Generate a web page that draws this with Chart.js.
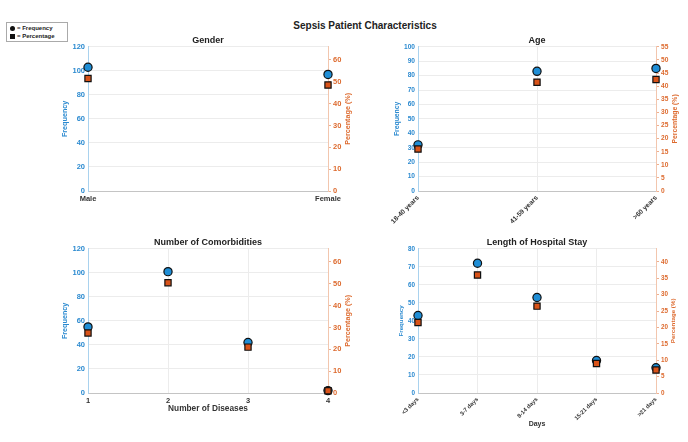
<!DOCTYPE html>
<html>
<head>
<meta charset="utf-8">
<script src="https://cdn.jsdelivr.net/npm/chart.js@4.4.1/dist/chart.umd.min.js"></script>
<style>
  body { margin: 0; background: #fff; width: 688px; height: 442px; position: relative; overflow: hidden;
         font-family: "Liberation Sans", Arial, sans-serif; }
  .panel { position: absolute; }
  #mainTitle { position: absolute; left: 265px; width: 200px; top: 20px; text-align: center;
               font-weight: bold; font-size: 10px; color: #222; white-space: nowrap; }
  #legend { position: absolute; left: 6px; top: 22px; width: 57px; height: 17px; border: 1px solid #aaa;
            font-size: 6px; font-weight: bold; color: #222; padding: 1px 0 0 3px; box-sizing: content-box; }
  #legend div { height: 8px; line-height: 8px; white-space: nowrap; }
  .sym { display: inline-block; width: 5px; height: 5px; background: #111; margin-right: 2px; vertical-align: -0.5px; }
  .circ { border-radius: 50%; }
</style>
</head>
<body>
<div id="mainTitle">Sepsis Patient Characteristics</div>
<div id="legend">
  <div><span class="sym circ"></span>= Frequency</div>
  <div><span class="sym"></span>= Percentage</div>
</div>
<canvas id="gender" class="panel" width="294" height="170" style="left:60px;top:33px"></canvas>
<canvas id="age" class="panel" width="304" height="192" style="left:376px;top:33px"></canvas>
<canvas id="comorb" class="panel" width="294" height="180" style="left:60px;top:235px"></canvas>
<canvas id="stay" class="panel" width="304" height="194" style="left:376px;top:235px"></canvas>
<script>
const FONT = '"Liberation Sans", Arial, sans-serif';
const BLUE = '#2b8ad0';
const ORANGE = '#dd6a2e';

// gender
const genderLabels = ['Male', 'Female'];
const genderFreq = [103, 97];
const genderPct = [51.5, 48.5];

// age
const ageLabels = ['18-40 years', '41-59 years', '>60 years'];
const ageFreq = [32, 83, 85];
const agePct = [16, 41.5, 42.5];

// comorbidities
const comorbLabels = ['1', '2', '3', '4'];
const comorbFreq = [55, 101, 42, 2];
const comorbPct = [27.5, 50.5, 21, 1];

// length of stay
const stayLabels = ['<3 days', '3-7 days', '8-14 days', '15-21 days', '>21 days'];
const stayFreq = [43, 72, 53, 18, 14];
const stayPct = [21.5, 36, 26.5, 9, 7];

function bold(size) {
    return { family: FONT, size, weight: 'bold' };
}

// chart.js turns right-hand titles the other way, so draw this one by hand
const rightTitle = {
    id: 'rightTitle',
    afterDraw(chart, args, opts) {
        const s = chart.scales.y1;
        const c = chart.ctx;
        c.save();
        c.translate(s.right - opts.offset, (s.top + s.bottom) / 2);
        c.rotate(-Math.PI / 2);
        c.font = `bold ${opts.size}px ${FONT}`;
        c.fillStyle = ORANGE;
        c.textAlign = 'center';
        c.textBaseline = 'middle';
        c.fillText('Percentage (%)', 0, 0);
        c.restore();
    }
};

function makePanel(id, labels, freq, pct, cfg) {
    const ctx = document.getElementById(id).getContext('2d');
    return new Chart(ctx, {
        type: 'line',
        data: {
            labels,
            datasets: [{
                label: 'Frequency',
                data: freq,
                yAxisID: 'y',
                showLine: false,
                clip: false,
                pointStyle: 'circle',
                pointRadius: 4.1,
                pointBackgroundColor: '#1f8ed6',
                pointBorderColor: '#111',
                pointBorderWidth: 1.2,
                order: 2,
            }, {
                label: 'Percentage',
                data: pct,
                yAxisID: 'y1',
                showLine: false,
                clip: false,
                pointStyle: 'rect',
                pointRadius: 4.4,
                pointBackgroundColor: '#d95319',
                pointBorderColor: '#111',
                pointBorderWidth: 1.2,
                order: 1,
            }]
        },
        plugins: [rightTitle],
        options: {
            responsive: false,
            animation: false,
            layout: { padding: 0 },
            plugins: {
                legend: { display: false },
                tooltip: { enabled: false },
                title: {
                    display: true,
                    fullSize: false,
                    text: cfg.title,
                    color: '#222',
                    font: bold(9),
                    padding: { top: 2, bottom: 1 },
                },
                rightTitle: { offset: cfg.rtOff, size: cfg.axFont }
            },
            scales: {
                x: {
                    type: 'category',
                    offset: false,
                    grid: { color: '#ececec', drawTicks: false },
                    border: { color: '#c4c4c4' },
                    ticks: {
                        color: '#333',
                        font: bold(cfg.xFont),
                        padding: 3,
                        minRotation: cfg.rot,
                        maxRotation: cfg.rot,
                        autoSkip: false,
                    },
                    title: {
                        display: !!cfg.xTitle,
                        text: cfg.xTitle || '',
                        color: '#333',
                        font: bold(cfg.xTitleFont || 8),
                        padding: { top: 0, bottom: 1 },
                    },
                    afterFit(s) { s.height = cfg.xh; }
                },
                y: {
                    position: 'left',
                    min: 0,
                    max: cfg.yMax,
                    grid: { color: '#ececec', drawTicks: false },
                    border: { color: '#a9d2ee' },
                    ticks: { stepSize: cfg.yStep, color: BLUE, font: bold(cfg.tickFont), padding: 3 },
                    title: {
                        display: true,
                        text: 'Frequency',
                        color: BLUE,
                        font: bold(cfg.axFont),
                        padding: { top: cfg.ltPad, bottom: 0 },
                    },
                    afterFit(s) { s.width = cfg.lw; }
                },
                y1: {
                    position: 'right',
                    min: 0,
                    max: cfg.y1Max,
                    grid: { drawOnChartArea: false, tickLength: 3, color: '#eeb090' },
                    border: { color: '#f2c6ae' },
                    ticks: { stepSize: cfg.y1Step, includeBounds: false, color: ORANGE, font: bold(cfg.tickFont), padding: 2 },
                    afterFit(s) { s.width = cfg.rw; }
                }
            }
        }
    });
}

makePanel('gender', genderLabels, genderFreq, genderPct, {
    title: 'Gender', yMax: 120, yStep: 20, y1Max: 66, y1Step: 10,
    lw: 28, rw: 26, xh: 12, rot: 0, xFont: 7.5, tickFont: 7.5, axFont: 7.2,
    ltPad: 1, rtOff: 6,
});

makePanel('age', ageLabels, ageFreq, agePct, {
    title: 'Age', yMax: 100, yStep: 10, y1Max: 55, y1Step: 5,
    lw: 42, rw: 24, xh: 34, rot: 45, xFont: 6.7, tickFont: 6.6, axFont: 6.8,
    ltPad: 17, rtOff: 5,
});

makePanel('comorb', comorbLabels, comorbFreq, comorbPct, {
    title: 'Number of Comorbidities', yMax: 120, yStep: 20, y1Max: 66, y1Step: 10,
    lw: 28, rw: 26, xh: 22, rot: 0, xFont: 7.5, tickFont: 7.5, axFont: 7.2,
    ltPad: 1, rtOff: 6,
    xTitle: 'Number of Diseases', xTitleFont: 8.3,
});

makePanel('stay', stayLabels, stayFreq, stayPct, {
    title: 'Length of Hospital Stay', yMax: 80, yStep: 10, y1Max: 44, y1Step: 5,
    lw: 42, rw: 24, xh: 36, rot: 45, xFont: 5.8, tickFont: 6.3, axFont: 6.2,
    ltPad: 22, rtOff: 7,
    xTitle: 'Days', xTitleFont: 7,
});
</script>
</body>
</html>
